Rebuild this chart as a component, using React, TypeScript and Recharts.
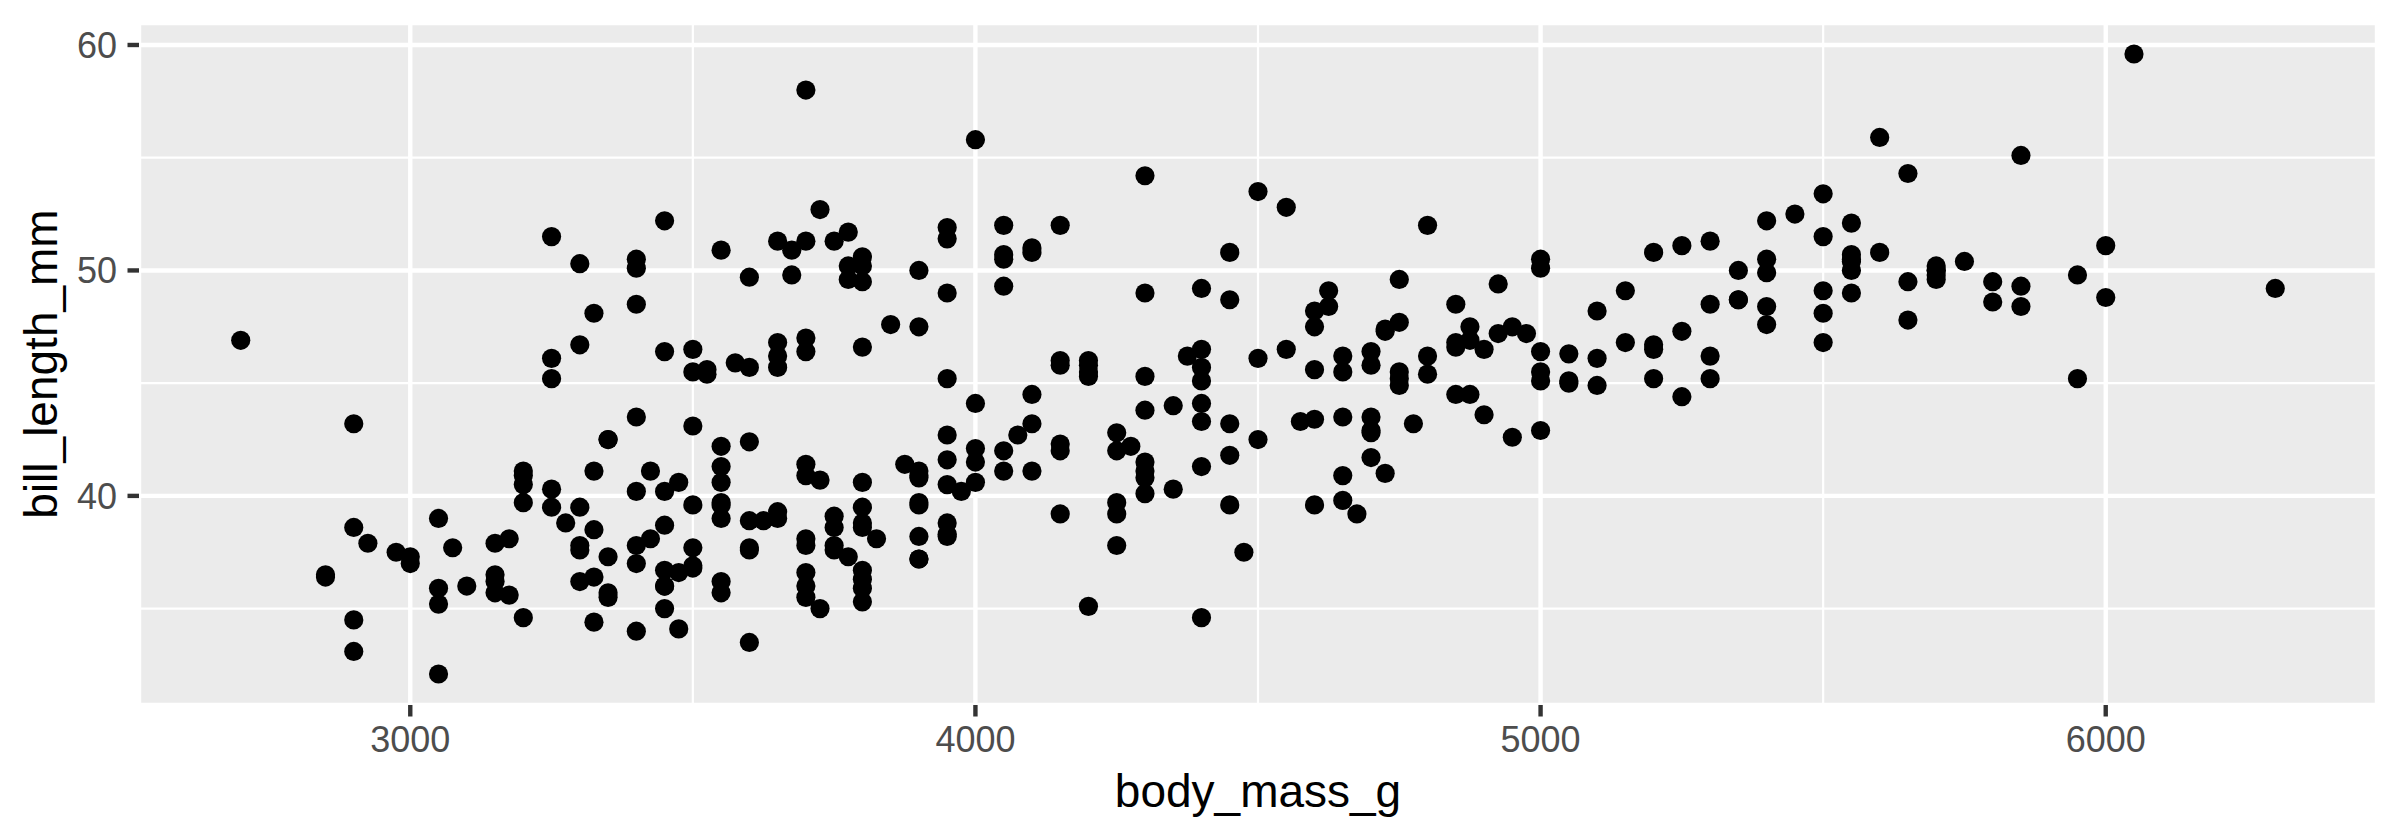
import React from "react"
import {
  ScatterChart,
  Scatter,
  XAxis,
  YAxis,
  CartesianGrid,
  ReferenceLine,
} from "recharts"

// [body_mass_g, bill_length_mm] per species
const ADELIE: [number, number][] = [
  [3750, 39.1], [3800, 39.5], [3250, 40.3], [3450, 36.7], [3650, 39.3], [3625, 38.9], [4675, 39.2], [3475, 34.1], [4250, 42.0], [3300, 37.8],
  [3700, 37.8], [3200, 41.1], [3800, 38.6], [4400, 34.6], [3700, 36.6], [3450, 38.7], [4500, 42.5], [3325, 34.4], [4200, 46.0], [3400, 37.8],
  [3600, 37.7], [3800, 35.9], [3950, 38.2], [3800, 38.8], [3800, 35.3], [3550, 40.6], [3200, 40.5], [3150, 37.9], [3950, 40.5], [3250, 39.5],
  [3900, 37.2], [3300, 39.5], [3900, 40.9], [3325, 36.4], [4150, 39.2], [3950, 38.8], [3550, 42.2], [3300, 37.6], [4650, 39.8], [3150, 36.5],
  [3900, 40.8], [3100, 36.0], [4400, 44.1], [3000, 37.0], [4600, 39.6], [3425, 41.1], [2975, 37.5], [3450, 36.0], [4150, 42.3], [3500, 39.6],
  [4300, 40.1], [3450, 35.0], [4050, 42.0], [2900, 34.5], [3700, 41.4], [3550, 39.0], [3800, 40.6], [2850, 36.5], [3750, 37.6], [3150, 35.7],
  [4400, 41.3], [3600, 37.6], [4050, 41.1], [2850, 36.4], [3950, 41.6], [3350, 35.5], [4100, 41.1], [3050, 35.9], [4450, 41.8], [3600, 33.5],
  [3900, 39.7], [3550, 39.6], [4150, 45.8], [3700, 35.5], [4250, 42.8], [3700, 40.9], [3900, 37.2], [3550, 36.2], [4000, 42.1], [3200, 34.6],
  [4700, 42.9], [3800, 36.7], [4200, 35.1], [3350, 37.3], [3550, 41.3], [3800, 36.3], [3500, 36.9], [3950, 38.3], [3600, 38.9], [3550, 35.7],
  [4300, 41.1], [3400, 34.0], [4450, 39.6], [3300, 36.2], [4300, 40.8], [3700, 38.1], [4350, 40.3], [2900, 33.1], [4100, 43.2], [3725, 35.0],
  [4725, 41.0], [3075, 37.7], [4250, 37.8], [2925, 37.9], [3550, 39.7], [3750, 38.6], [3900, 38.2], [3175, 38.1], [4775, 43.2], [3825, 38.1],
  [4600, 45.6], [3200, 39.7], [4275, 42.2], [3900, 39.6], [4075, 42.7], [2900, 38.6], [3775, 37.3], [3350, 35.7], [3325, 41.1], [3150, 36.2],
  [3500, 37.7], [3450, 40.2], [3875, 41.4], [3050, 35.2], [4000, 40.6], [3275, 38.8], [4300, 41.5], [3050, 39.0], [4000, 44.1], [3325, 38.5],
  [3500, 43.1], [3500, 36.8], [4475, 37.5], [3425, 38.1], [3900, 41.1], [3175, 35.6], [3975, 40.2], [3400, 37.0], [4250, 39.7], [3400, 40.2],
  [3475, 40.6], [3050, 32.1], [3725, 40.7], [3000, 37.3], [3650, 39.0], [4250, 39.2], [3475, 36.6], [3450, 36.0], [3750, 37.8], [3700, 36.0],
  [4000, 41.5],
]

const GENTOO: [number, number][] = [
  [4500, 46.1], [5700, 50.0], [4450, 48.7], [5700, 50.0], [5400, 47.6], [4550, 46.5], [4800, 45.4], [5200, 46.7], [4400, 43.3], [5150, 46.8],
  [4650, 40.9], [5550, 49.0], [4650, 45.5], [5850, 48.4], [4200, 45.8], [5850, 49.3], [4150, 42.0], [6300, 49.2], [4800, 46.2], [5350, 48.7],
  [5700, 50.2], [5000, 45.1], [4400, 46.5], [5050, 46.3], [5000, 42.9], [5100, 46.1], [4100, 44.5], [5650, 47.8], [4600, 48.2], [5550, 50.0],
  [5250, 47.3], [4700, 42.8], [5050, 45.1], [6050, 59.6], [5150, 49.1], [5400, 48.4], [4950, 42.6], [5250, 44.4], [4350, 44.0], [5350, 48.7],
  [3950, 42.7], [5700, 49.6], [4300, 45.3], [4750, 49.6], [5550, 50.5], [4900, 43.6], [4200, 45.5], [5400, 50.5], [5100, 44.9], [5300, 45.2],
  [4850, 46.6], [5300, 48.5], [4400, 45.1], [5000, 50.1], [4900, 46.5], [5050, 45.0], [4300, 43.8], [5000, 45.5], [4450, 43.2], [5550, 50.4],
  [4200, 45.3], [5300, 46.2], [4400, 45.7], [5650, 54.3], [4700, 45.8], [5700, 49.8], [4650, 46.2], [5800, 49.5], [4700, 43.5], [5550, 50.7],
  [4750, 47.7], [5000, 46.4], [5100, 48.2], [5200, 46.5], [4700, 46.4], [5800, 48.6], [4600, 47.5], [6000, 51.1], [4750, 45.2], [5950, 45.2],
  [4625, 49.1], [5450, 52.5], [4725, 47.4], [5350, 50.0], [4750, 44.9], [5600, 50.8], [4600, 43.4], [5300, 51.3], [4875, 47.5], [5550, 52.1],
  [4950, 47.5], [5400, 52.2], [4750, 45.5], [5650, 49.5], [4850, 44.5], [5200, 50.8], [4925, 49.4], [4875, 46.9], [4625, 48.4], [5250, 51.1],
  [4850, 48.5], [5600, 55.9], [4975, 47.2], [5500, 49.1], [4725, 47.3], [5500, 46.8], [4700, 41.7], [5500, 53.4], [4575, 43.3], [5500, 48.1],
  [5000, 50.5], [5950, 49.8], [4650, 43.5], [5500, 51.5], [4375, 46.2], [5850, 55.1], [4875, 44.5], [6000, 48.8], [4925, 47.2], [4850, 46.8],
  [5750, 50.4], [5200, 45.2], [5400, 49.9],
]

const CHINSTRAP: [number, number][] = [
  [3500, 46.5], [3900, 50.0], [3650, 51.3], [3525, 45.4], [3725, 52.7], [3950, 45.2], [3250, 46.1], [3750, 51.3], [4150, 46.0], [3700, 51.3],
  [3800, 46.6], [3775, 51.7], [3700, 47.0], [4050, 52.0], [3575, 45.9], [4050, 50.5], [3300, 50.3], [3700, 58.0], [3450, 46.4], [4400, 49.2],
  [3600, 42.4], [3400, 48.5], [2900, 43.2], [3800, 50.6], [3300, 46.7], [4150, 52.0], [3400, 50.5], [3800, 49.5], [3700, 46.4], [4550, 52.8],
  [3200, 40.9], [4300, 54.2], [3350, 42.5], [4100, 51.0], [3600, 49.7], [3900, 47.5], [3850, 47.6], [4800, 52.0], [2700, 46.9], [4500, 53.5],
  [3950, 49.0], [3650, 46.2], [3550, 50.9], [3500, 45.5], [3675, 50.9], [4450, 50.8], [3400, 50.1], [4300, 49.0], [3250, 51.5], [3675, 49.8],
  [3325, 48.1], [3950, 51.4], [3600, 45.7], [4050, 50.7], [3350, 42.5], [3450, 52.2], [3250, 45.2], [4050, 49.3], [3800, 50.2], [3525, 45.6],
  [3950, 51.9], [3650, 46.8], [3650, 45.7], [4000, 55.8], [3400, 43.5], [3775, 49.6], [4100, 50.8], [3775, 50.2],
]

const X_TICKS = [3000, 4000, 5000, 6000]
const X_MINOR = [3500, 4500, 5500]
const Y_TICKS = [40, 50, 60]
const Y_MINOR = [35, 45, 55]

const points = [...ADELIE, ...GENTOO, ...CHINSTRAP].map(([mass, bill]) => ({ mass, bill }))

const FONT = "'Liberation Sans', Arial, Helvetica, sans-serif"
const tickStyle = { fill: "#4D4D4D", fontSize: 36, fontFamily: FONT }

const Dot = (props: any) => <circle cx={props.cx} cy={props.cy} r={9.6} fill="#000000" />

export default function App() {
  return (
    <div style={{ position: "absolute", left: 0, top: 0, width: 2400, height: 840, background: "#fff", fontFamily: FONT }}>
      <ScatterChart width={2400} height={840} margin={{ top: 23, right: 23, bottom: 0, left: 0 }}>
        <CartesianGrid stroke="#FFFFFF" strokeWidth={4.4} fill="#EBEBEB" fillOpacity={1} />
        {X_MINOR.map((v) => (
          <ReferenceLine key={`xm-${v}`} x={v} stroke="#FFFFFF" strokeWidth={2.2} />
        ))}
        {Y_MINOR.map((v) => (
          <ReferenceLine key={`ym-${v}`} y={v} stroke="#FFFFFF" strokeWidth={2.2} />
        ))}
        <XAxis
          type="number"
          dataKey="mass"
          domain={[2520, 6480]}
          allowDataOverflow
          ticks={X_TICKS}
          interval={0}
          height={135}
          axisLine={false}
          tickLine={{ stroke: "#333333", strokeWidth: 4.4 }}
          tickSize={11.5}
          tickMargin={10}
          tick={tickStyle}
          label={{ value: "body_mass_g", position: "insideBottom", offset: 33, fill: "#000000", fontSize: 46, fontFamily: FONT }}
        />
        <YAxis
          type="number"
          dataKey="bill"
          domain={[30.725, 60.975]}
          allowDataOverflow
          ticks={Y_TICKS}
          interval={0}
          width={139}
          axisLine={false}
          tickLine={{ stroke: "#333333", strokeWidth: 4.4 }}
          tickSize={11.5}
          tickMargin={10.5}
          tick={tickStyle}
          label={{
            value: "bill_length_mm",
            angle: -90,
            position: "insideLeft",
            offset: 41,
            fill: "#000000",
            fontSize: 46,
            fontFamily: FONT,
            style: { textAnchor: "middle" },
          }}
        />
        <Scatter data={points} shape={Dot} isAnimationActive={false} />
      </ScatterChart>
    </div>
  )
}
